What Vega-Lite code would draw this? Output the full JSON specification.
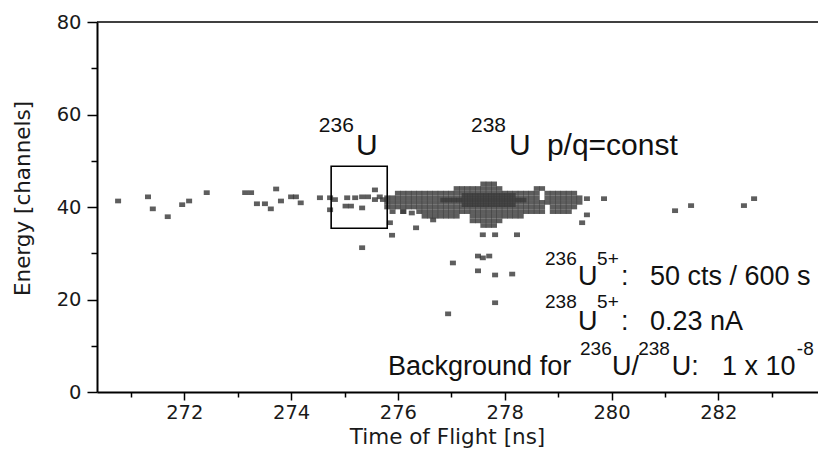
{
  "$schema": "https://vega.github.io/schema/vega-lite/v6.json",
  "width": 721,
  "height": 370,
  "autosize": {"type": "none"},
  "padding": {"left": 97, "top": 22, "right": 0, "bottom": 64},
  "background": "white",
  "config": {
    "view": {"stroke": null},
    "font": "Liberation Sans",
    "axis": {
      "domainColor": "black", "domainWidth": 2, "tickColor": "black", "tickWidth": 1.5,
      "grid": false, "labelColor": "#1a1a1a", "titleColor": "#1a1a1a",
      "labelFont": "DejaVu Sans", "titleFont": "DejaVu Sans",
      "titleFontWeight": "normal", "labelFontSize": 19.5, "titleFontSize": 21.5
    }
  },
  "datasets": {
    "pts": [
      {"t":270.76,"e":41.3},{"t":271.32,"e":42.2},{"t":271.41,"e":39.6},{"t":271.69,"e":37.9},{"t":271.96,"e":40.5},{"t":272.09,"e":41.3},
      {"t":272.42,"e":43.1},{"t":273.14,"e":43.1},{"t":273.25,"e":43.1},{"t":273.72,"e":43.9},{"t":273.36,"e":40.7},{"t":273.51,"e":40.7},
      {"t":273.62,"e":39.6},{"t":273.81,"e":41.3},{"t":274.0,"e":42.2},{"t":274.09,"e":42.2},{"t":274.18,"e":40.9},{"t":274.54,"e":42.0},
      {"t":274.73,"e":42.0},{"t":274.73,"e":39.4},{"t":274.82,"e":41.6},{"t":275.05,"e":42.0},{"t":275.02,"e":40.2},{"t":275.12,"e":40.2},
      {"t":275.2,"e":42.0},{"t":275.33,"e":42.2},{"t":275.33,"e":39.8},{"t":275.44,"e":42.2},{"t":275.57,"e":43.7},{"t":275.57,"e":41.6},
      {"t":275.66,"e":42.2},{"t":275.72,"e":41.6},
      {"t":275.85,"e":36.6},{"t":275.89,"e":33.9},{"t":276.1,"e":39.0},{"t":276.26,"e":38.7},{"t":276.34,"e":35.5},{"t":276.66,"e":37.2},
      {"t":277.59,"e":34.0},{"t":277.82,"e":34.0},{"t":278.23,"e":34.0},{"t":277.03,"e":27.9},{"t":277.5,"e":29.4},{"t":277.59,"e":29.0},
      {"t":277.71,"e":29.4},{"t":277.5,"e":26.2},{"t":277.82,"e":25.3},{"t":278.14,"e":25.5},{"t":277.82,"e":19.3},{"t":276.94,"e":16.9},
      {"t":275.33,"e":31.2},
      {"t":279.54,"e":41.8},{"t":279.86,"e":41.8},{"t":279.54,"e":38.3},{"t":279.45,"e":36.6},{"t":281.19,"e":39.2},{"t":281.49,"e":40.3},
      {"t":282.48,"e":40.3},{"t":282.67,"e":41.8},
      {"t":277.6,"e":45},{"t":277.7,"e":45},{"t":277.8,"e":45},
      {"t":277.1,"e":44},{"t":277.2,"e":44},{"t":277.3,"e":44},{"t":277.4,"e":44},{"t":277.5,"e":44},{"t":277.6,"e":44},{"t":277.7,"e":44},
      {"t":277.8,"e":44},{"t":277.9,"e":44},{"t":278.6,"e":44},{"t":278.7,"e":44},
      {"t":276.0,"e":43},{"t":276.1,"e":43},{"t":276.2,"e":43},{"t":276.3,"e":43},{"t":276.4,"e":43},{"t":276.5,"e":43},{"t":276.6,"e":43},
      {"t":276.7,"e":43},{"t":276.8,"e":43},{"t":276.9,"e":43},{"t":277.0,"e":43},{"t":277.1,"e":43},{"t":277.2,"e":43},{"t":277.3,"e":43},
      {"t":277.4,"e":43},{"t":277.5,"e":43},{"t":277.6,"e":43},{"t":277.7,"e":43},{"t":277.8,"e":43},{"t":277.9,"e":43},{"t":278.0,"e":43},
      {"t":278.1,"e":43},{"t":278.2,"e":43},{"t":278.3,"e":43},{"t":278.4,"e":43},{"t":278.5,"e":43},{"t":278.6,"e":43},{"t":278.8,"e":43},
      {"t":278.9,"e":43},{"t":279.0,"e":43},{"t":279.1,"e":43},{"t":279.2,"e":43},{"t":279.3,"e":43},
      {"t":275.8,"e":42},{"t":275.9,"e":42},{"t":276.0,"e":42},{"t":276.1,"e":42},{"t":276.2,"e":42},{"t":276.3,"e":42},{"t":276.4,"e":42},
      {"t":276.5,"e":42},{"t":276.6,"e":42},{"t":276.7,"e":42},{"t":276.8,"e":42},{"t":276.9,"e":42},{"t":277.0,"e":42},{"t":277.1,"e":42},
      {"t":277.2,"e":42},{"t":277.3,"e":42},{"t":277.4,"e":42},{"t":277.5,"e":42},{"t":277.6,"e":42},{"t":277.7,"e":42},{"t":277.8,"e":42},
      {"t":277.9,"e":42},{"t":278.0,"e":42},{"t":278.1,"e":42},{"t":278.2,"e":42},{"t":278.3,"e":42},{"t":278.4,"e":42},{"t":278.5,"e":42},
      {"t":278.6,"e":42},{"t":278.8,"e":42},{"t":278.9,"e":42},{"t":279.0,"e":42},{"t":279.1,"e":42},{"t":279.2,"e":42},{"t":279.3,"e":42},
      {"t":279.4,"e":42},
      {"t":275.8,"e":41},{"t":275.9,"e":41},{"t":276.0,"e":41},{"t":276.1,"e":41},{"t":276.2,"e":41},{"t":276.3,"e":41},{"t":276.4,"e":41},
      {"t":276.5,"e":41},{"t":276.6,"e":41},{"t":276.7,"e":41},{"t":276.8,"e":41},{"t":276.9,"e":41},{"t":277.0,"e":41},{"t":277.1,"e":41},
      {"t":277.2,"e":41},{"t":277.3,"e":41},{"t":277.4,"e":41},{"t":277.5,"e":41},{"t":277.6,"e":41},{"t":277.7,"e":41},{"t":277.8,"e":41},
      {"t":277.9,"e":41},{"t":278.0,"e":41},{"t":278.1,"e":41},{"t":278.2,"e":41},{"t":278.3,"e":41},{"t":278.4,"e":41},{"t":278.5,"e":41},
      {"t":278.6,"e":41},{"t":278.7,"e":41},{"t":278.8,"e":41},{"t":278.9,"e":41},{"t":279.0,"e":41},{"t":279.1,"e":41},{"t":279.2,"e":41},
      {"t":279.3,"e":41},{"t":279.4,"e":41},
      {"t":275.8,"e":40},{"t":275.9,"e":40},{"t":276.0,"e":40},{"t":276.1,"e":40},{"t":276.2,"e":40},{"t":276.3,"e":40},{"t":276.4,"e":40},
      {"t":276.5,"e":40},{"t":276.6,"e":40},{"t":276.7,"e":40},{"t":276.8,"e":40},{"t":276.9,"e":40},{"t":277.0,"e":40},{"t":277.1,"e":40},
      {"t":277.2,"e":40},{"t":277.3,"e":40},{"t":277.4,"e":40},{"t":277.5,"e":40},{"t":277.6,"e":40},{"t":277.7,"e":40},{"t":277.8,"e":40},
      {"t":277.9,"e":40},{"t":278.0,"e":40},{"t":278.1,"e":40},{"t":278.2,"e":40},{"t":278.3,"e":40},{"t":278.4,"e":40},{"t":278.5,"e":40},
      {"t":278.6,"e":40},{"t":278.7,"e":40},{"t":278.9,"e":40},{"t":279.0,"e":40},{"t":279.1,"e":40},{"t":279.2,"e":40},{"t":279.3,"e":40},
      {"t":275.9,"e":39},{"t":276.1,"e":39},{"t":276.4,"e":39},{"t":276.5,"e":39},{"t":276.6,"e":39},{"t":276.7,"e":39},{"t":276.8,"e":39},
      {"t":276.9,"e":39},{"t":277.0,"e":39},{"t":277.1,"e":39},{"t":277.2,"e":39},{"t":277.3,"e":39},{"t":277.4,"e":39},{"t":277.5,"e":39},
      {"t":277.6,"e":39},{"t":277.7,"e":39},{"t":277.8,"e":39},{"t":277.9,"e":39},{"t":278.0,"e":39},{"t":278.1,"e":39},{"t":278.2,"e":39},
      {"t":278.3,"e":39},{"t":278.4,"e":39},{"t":278.5,"e":39},{"t":278.6,"e":39},{"t":278.7,"e":39},{"t":278.9,"e":39},{"t":279.0,"e":39},
      {"t":279.1,"e":39},{"t":279.2,"e":39},
      {"t":276.5,"e":38},{"t":276.6,"e":38},{"t":276.7,"e":38},{"t":276.8,"e":38},{"t":276.9,"e":38},{"t":277.0,"e":38},{"t":277.1,"e":38},
      {"t":277.4,"e":38},{"t":277.5,"e":38},{"t":277.6,"e":38},{"t":277.7,"e":38},{"t":277.8,"e":38},{"t":277.9,"e":38},{"t":278.0,"e":38},
      {"t":278.1,"e":38},{"t":278.2,"e":38},{"t":278.3,"e":38},
      {"t":277.4,"e":37},{"t":277.5,"e":37},{"t":277.6,"e":37},{"t":277.7,"e":37},{"t":277.8,"e":37},{"t":277.9,"e":37},
      {"t":277.6,"e":36},{"t":277.7,"e":36},{"t":277.8,"e":36},
      {"t":277.25,"e":42.5},{"t":277.35,"e":42.5},{"t":277.45,"e":42.5},{"t":277.55,"e":42.5},{"t":277.65,"e":42.5},{"t":277.75,"e":42.5},
      {"t":277.85,"e":42.5},{"t":277.95,"e":42.5},{"t":278.05,"e":42.5},{"t":278.15,"e":42.5},
      {"t":276.85,"e":41.5},{"t":276.95,"e":41.5},{"t":277.05,"e":41.5},{"t":277.15,"e":41.5},{"t":277.25,"e":41.5},{"t":277.35,"e":41.5},
      {"t":277.45,"e":41.5},{"t":277.55,"e":41.5},{"t":277.65,"e":41.5},{"t":277.75,"e":41.5},{"t":277.85,"e":41.5},{"t":277.95,"e":41.5},
      {"t":278.05,"e":41.5},{"t":278.15,"e":41.5},{"t":278.25,"e":41.5},{"t":278.35,"e":41.5},
      {"t":277.25,"e":40.5},{"t":277.35,"e":40.5},{"t":277.45,"e":40.5},{"t":277.55,"e":40.5},{"t":277.65,"e":40.5},{"t":277.75,"e":40.5},
      {"t":277.85,"e":40.5},{"t":277.95,"e":40.5},{"t":278.05,"e":40.5},{"t":278.15,"e":40.5}
    ],
    "box": [{"t1":274.75,"t2":275.8,"e1":35.4,"e2":48.8}],
    "topBig": [
      {"t":275.215,"e":51.3,"s":"U"},{"t":278.08,"e":51.3,"s":"U"},{"t":278.79,"e":51.3,"s":"p/q=const"}
    ],
    "topSup": [
      {"t":274.52,"e":56.3,"s":"236"},{"t":277.369,"e":56.3,"s":"238"}
    ],
    "big": [
      {"t":279.373,"e":23.2,"s":"U"},{"t":280.18,"e":23.2,"s":":"},{"t":280.72,"e":23.2,"s":"50 cts / 600 s"},
      {"t":279.373,"e":13.4,"s":"U"},{"t":280.18,"e":13.4,"s":":"},{"t":280.72,"e":13.4,"s":"0.23 nA"},
      {"t":275.815,"e":3.68,"s":"Background for"},{"t":280.01,"e":3.68,"s":"U/"},{"t":281.13,"e":3.68,"s":"U:"},
      {"t":282.07,"e":3.68,"s":"1 x 10"}
    ],
    "sup": [
      {"t":278.755,"e":27.5,"s":"236"},{"t":279.73,"e":27.5,"s":"5+"},
      {"t":278.755,"e":18.2,"s":"238"},{"t":279.73,"e":18.2,"s":"5+"},
      {"t":279.41,"e":8.0,"s":"236"},{"t":280.5,"e":8.0,"s":"238"},{"t":283.47,"e":8.0,"s":"-8"}
    ]
  },
  "layer": [
    {
      "data": {"name": "pts"},
      "mark": {"type": "point", "shape": "M-1,-0.78H1V0.78H-1Z", "filled": true, "size": 36, "color": "#3a3a3a", "opacity": 0.82, "strokeWidth": 0},
      "encoding": {
        "x": {"field": "t", "type": "quantitative",
          "scale": {"domain": [270.365, 283.867], "nice": false, "zero": false},
          "axis": {"title": "Time of Flight [ns]", "values": [271,272,273,274,275,276,277,278,279,280,281,282,283],
            "labelExpr": "datum.value % 2 == 0 ? datum.label : ''",
            "tickSize": {"condition": {"test": "datum.value % 2 != 0", "value": 5}, "value": 8},
            "labelPadding": 3, "titlePadding": 5, "titleX": 350, "labelFlush": false}},
        "y": {"field": "e", "type": "quantitative",
          "scale": {"domain": [0, 80], "nice": false},
          "axis": {"title": "Energy [channels]", "values": [0,10,20,30,40,50,60,70,80],
            "labelExpr": "datum.value % 20 == 0 ? datum.label : ''",
            "tickSize": {"condition": {"test": "datum.value % 20 != 0", "value": 6}, "value": 10},
            "labelPadding": 6, "titlePadding": 22, "titleY": 176, "labelFlush": false}}
      }
    },
    {
      "data": {"name": "box"},
      "mark": {"type": "rect", "fill": null, "stroke": "black", "strokeWidth": 1.6},
      "encoding": {
        "x": {"field": "t1", "type": "quantitative"}, "x2": {"field": "t2"},
        "y": {"field": "e1", "type": "quantitative"}, "y2": {"field": "e2"}
      }
    },
    {
      "data": {"values": [{}]},
      "mark": {"type": "rule", "color": "black", "strokeWidth": 1.5},
      "encoding": {"y": {"datum": 80, "type": "quantitative"}}
    },
    {
      "data": {"name": "topBig"},
      "mark": {"type": "text", "align": "left", "baseline": "alphabetic", "fontSize": 30, "font": "Liberation Sans", "color": "#111"},
      "encoding": {"x": {"field": "t", "type": "quantitative"}, "y": {"field": "e", "type": "quantitative"}, "text": {"field": "s"}}
    },
    {
      "data": {"name": "topSup"},
      "mark": {"type": "text", "align": "left", "baseline": "alphabetic", "fontSize": 21, "font": "Liberation Sans", "color": "#111"},
      "encoding": {"x": {"field": "t", "type": "quantitative"}, "y": {"field": "e", "type": "quantitative"}, "text": {"field": "s"}}
    },
    {
      "data": {"name": "big"},
      "mark": {"type": "text", "align": "left", "baseline": "alphabetic", "fontSize": 27, "font": "Liberation Sans", "color": "#111"},
      "encoding": {"x": {"field": "t", "type": "quantitative"}, "y": {"field": "e", "type": "quantitative"}, "text": {"field": "s"}}
    },
    {
      "data": {"name": "sup"},
      "mark": {"type": "text", "align": "left", "baseline": "alphabetic", "fontSize": 19, "font": "Liberation Sans", "color": "#111"},
      "encoding": {"x": {"field": "t", "type": "quantitative"}, "y": {"field": "e", "type": "quantitative"}, "text": {"field": "s"}}
    }
  ]
}
